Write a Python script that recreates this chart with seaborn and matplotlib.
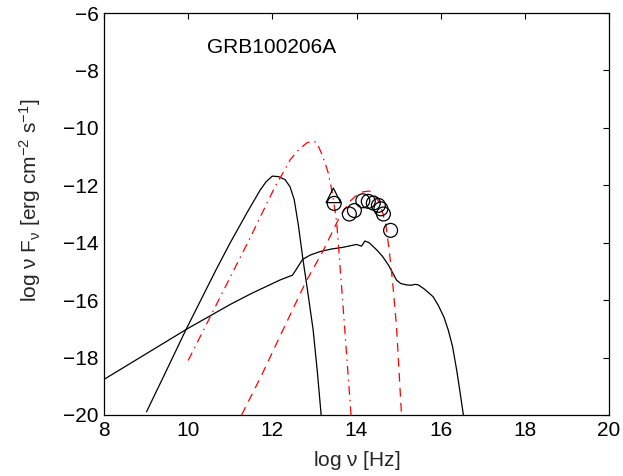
import matplotlib
matplotlib.use("Agg")
import matplotlib.pyplot as plt
import seaborn as sns
import numpy as np
import pandas as pd

# ---- data ----
# steep black model curve
c1_x = [9.01, 9.5, 9.95, 10.3, 10.66, 11.0, 11.4, 11.71, 11.85, 12.0, 12.15, 12.3, 12.42,
        12.52, 12.62, 12.72, 12.85, 12.97, 13.07, 13.16]
c1_y = [-19.89, -18.4, -17.02, -16.0, -14.95, -14.0, -12.95, -12.17, -11.88, -11.68, -11.7,
        -11.8, -12.05, -12.5, -13.4, -14.5, -15.8, -17.04, -18.5, -20.0]

# broad black model curve
c2_x = [8.0, 9.0, 10.0, 11.0, 11.5, 12.18, 12.48, 12.72, 12.9, 13.13, 13.4, 13.68, 14.0,
        14.12, 14.2, 14.3, 14.48, 14.62, 14.76, 14.86, 14.95, 15.05, 15.19, 15.3, 15.4,
        15.47, 15.6, 15.72, 15.82, 15.95, 16.08, 16.18, 16.28, 16.38, 16.46, 16.54]
c2_y = [-18.76, -17.87, -16.98, -16.15, -15.77, -15.3, -15.13, -14.58, -14.43, -14.31,
        -14.22, -14.16, -14.06, -14.12, -13.94, -14.0, -14.25, -14.48, -14.78, -15.05,
        -15.3, -15.42, -15.47, -15.48, -15.45, -15.47, -15.6, -15.75, -15.88, -16.2, -16.6,
        -17.04, -17.6, -18.43, -19.2, -20.0]

# red dash-dot curve
dd_x = [10.0, 10.5, 11.0, 11.5, 11.87, 12.1, 12.3, 12.42, 12.6, 12.82, 12.95, 13.05, 13.17,
        13.25, 13.33, 13.43, 13.53, 13.7, 13.87]
dd_y = [-18.1, -16.65, -15.2, -13.75, -12.63, -11.95, -11.45, -11.12, -10.8, -10.52,
        -10.47, -10.5, -10.89, -11.2, -11.58, -12.3, -13.3, -16.6, -20.0]

# red dashed curve
ds_x = [11.27, 11.75, 12.2, 12.8, 13.2, 13.6, 13.85, 14.0, 14.15, 14.3, 14.42, 14.52, 14.62,
        14.7, 14.78, 14.86, 14.95, 15.07]
ds_y = [-20.0, -18.6, -17.2, -15.35, -14.3, -13.1, -12.55, -12.35, -12.23, -12.2, -12.3,
        -12.55, -12.95, -13.4, -14.3, -15.4, -16.9, -20.0]

# observed points (circles) and triangle
obs_x = [13.47, 13.83, 13.95, 14.15, 14.28, 14.4, 14.52, 14.58, 14.64, 14.81]
obs_y = [-12.63, -13.0, -12.88, -12.54, -12.56, -12.62, -12.7, -12.82, -13.0, -13.57]
tri_x = [13.45]
tri_y = [-12.35]

x_ticks = [8, 10, 12, 14, 16, 18, 20]
y_ticks = [-20, -18, -16, -14, -12, -10, -8, -6]
title_text = "GRB100206A"

# ---- style ----
sns.set_theme(style="white")
plt.rcParams['font.family'] = ['Liberation Sans', 'DejaVu Sans']
plt.rcParams['mathtext.fontset'] = 'custom'
plt.rcParams['mathtext.rm'] = 'Liberation Sans'
plt.rcParams['mathtext.it'] = 'Liberation Sans'
plt.rcParams['mathtext.default'] = 'regular'

fig = plt.figure(figsize=(6.23, 4.76), dpi=100)
ax = fig.add_axes([104/623, 1-415/476, (609-104)/623, (415-13)/476])

lw = 0.9
sns.lineplot(x=c1_x, y=c1_y, ax=ax, color='black', lw=lw, sort=False, estimator=None)
sns.lineplot(x=c2_x, y=c2_y, ax=ax, color='black', lw=lw, sort=False, estimator=None)
sns.lineplot(x=dd_x, y=dd_y, ax=ax, color='red', lw=lw, sort=False, estimator=None,
             linestyle=(0, (7, 4, 1.2, 4)))
sns.lineplot(x=ds_x, y=ds_y, ax=ax, color='red', lw=lw, sort=False, estimator=None,
             linestyle=(0, (7, 5)))

sns.scatterplot(x=obs_x, y=obs_y, ax=ax, marker='o', s=100, facecolors='none',
                edgecolors='black', linewidths=0.9, zorder=5)
sns.scatterplot(x=tri_x, y=tri_y, ax=ax, marker='^', s=110, facecolors='none',
                edgecolors='black', linewidths=0.9, zorder=5)

ax.set_xlim(8, 20)
ax.set_ylim(-20, -6)
ax.set_xticks(x_ticks)
ax.set_yticks(y_ticks)
ax.set_xticklabels([str(t) for t in x_ticks])
ax.set_yticklabels([str(t).replace('-', '\u2212') for t in y_ticks])

ax.tick_params(direction='in', length=4, width=0.8, top=True, right=True,
               labelsize=15, colors='black', pad=4)
for s in ax.spines.values():
    s.set_color('black')
    s.set_linewidth(0.9)

ax.set_xlabel(r'log $\nu$ [Hz]', fontsize=15, labelpad=7)
ax.set_ylabel(r'log $\nu$ F$_{\nu}$ [erg cm$^{-2}$ s$^{-1}$]', fontsize=15, labelpad=14)
ax.yaxis.label.set_y(0.535)

ax.text(10.45, -7.2, title_text, fontsize=15, ha='left', va='center', color='black')

fig.savefig('out.png', dpi=100)
